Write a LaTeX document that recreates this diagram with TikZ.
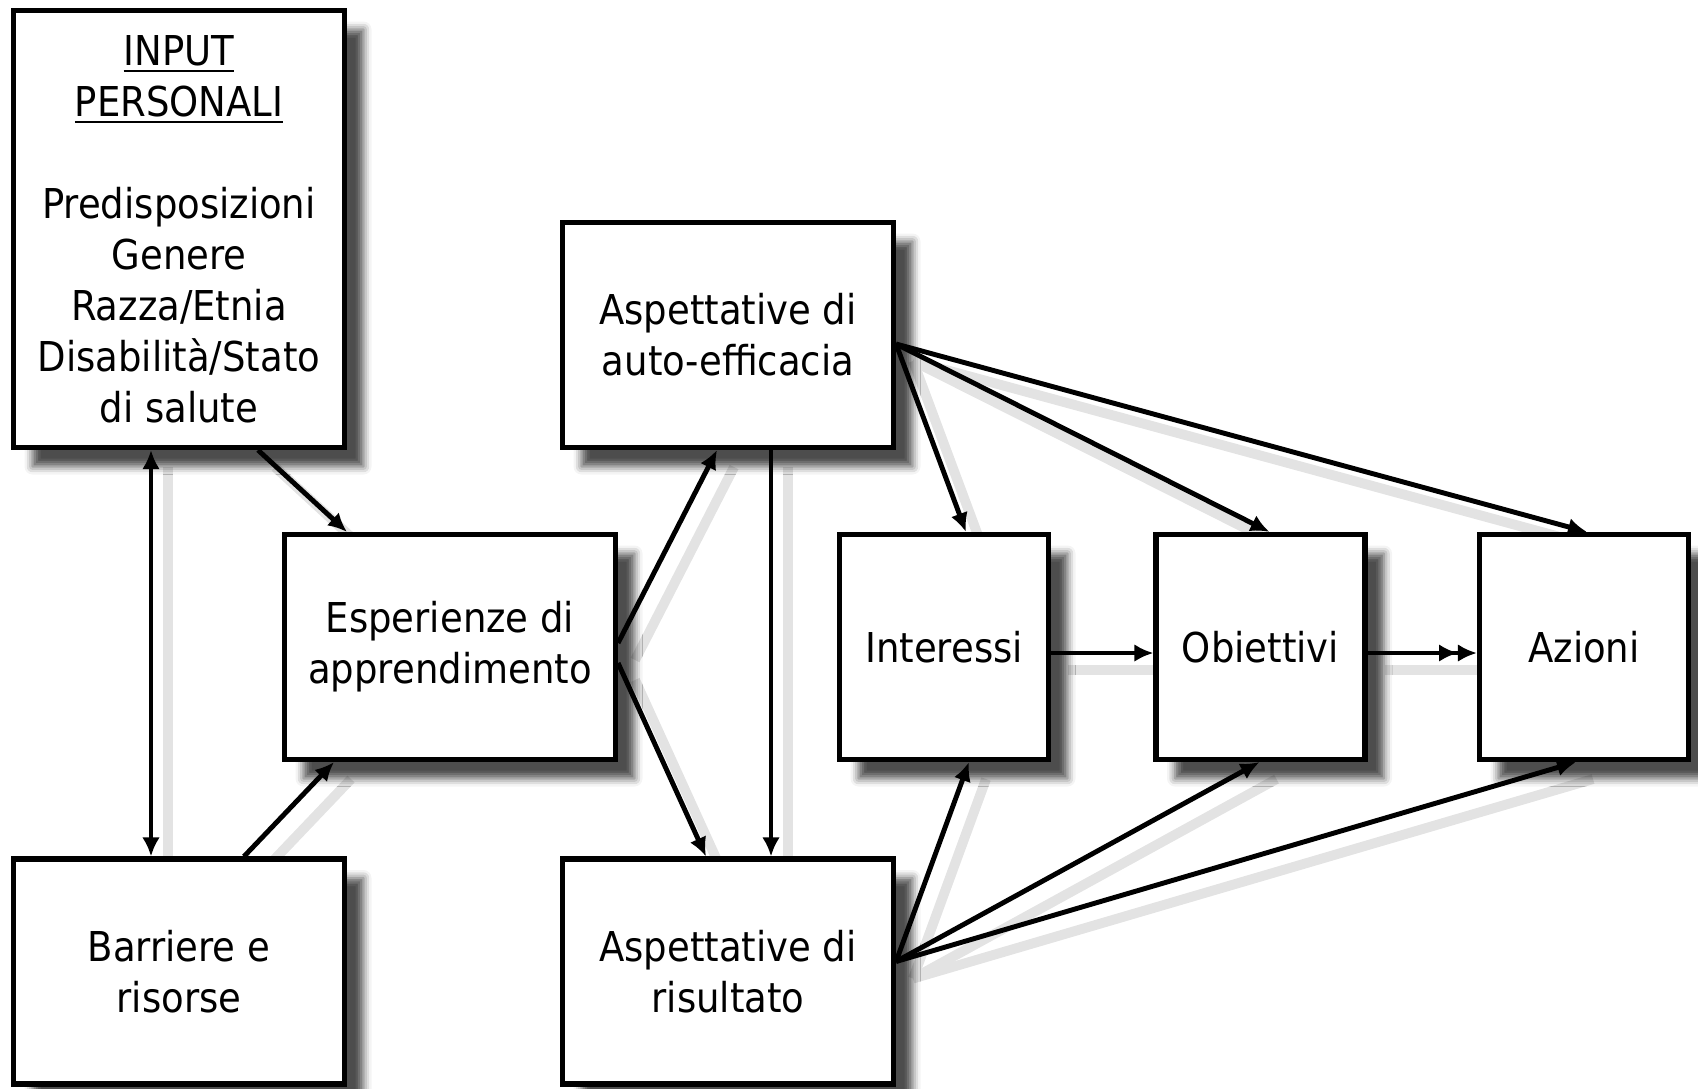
\documentclass[tikz,border=0pt]{standalone}
\usepackage{fontspec}
\setmainfont{DejaVu Sans Condensed}
\usetikzlibrary{arrows.meta,shadows.blur}
\pgfdeclarelayer{bg}
\pgfdeclarelayer{fg}
\pgfsetlayers{bg,main,fg}

\tikzset{
  box/.style={draw, line width=1.45pt, fill=white, align=center, inner sep=0pt,
    minimum width=3.31cm, minimum height=2.25cm,
    font=\fontsize{11.7}{14.5}\selectfont,
    blur shadow={shadow xshift=0.19cm, shadow yshift=-0.19cm,
      shadow blur radius=0.08cm, shadow opacity=70}},
  smallbox/.style={box, minimum width=2.09cm},
  link/.style={line width=1.4pt, ->},
  linkshadow/.style={line width=2.8pt, draw=black!11,
    transform canvas={shift={(0.17,-0.17)}}},
}

% connector with its soft shadow underneath
\newcommand\link[3][]{%
  \begin{pgfonlayer}{bg}\draw[linkshadow] #2 -- #3;\end{pgfonlayer}
  \begin{pgfonlayer}{fg}\draw[link,#1] #2 -- #3;\end{pgfonlayer}}

\begin{document}
\begin{tikzpicture}[>={Latex[length=5.4pt,width=5pt]}]
  \useasboundingbox (0,0) rectangle (16.98,-10.88);

  % boxes
  \node[box, minimum height=4.37cm] (inp) at (1.79,-2.29)
    {\underline{INPUT}\\\underline{PERSONALI}\\[14.5pt]Predisposizioni\\Genere\\Razza/Etnia\\Disabilità/Stato\\di salute};
  \node[box] (esp) at (4.50,-6.47) {Esperienze di\\apprendimento};
  \node[box] (auto) at (7.28,-3.35) {Aspettative di\\auto-efficacia};
  \node[box] (ris) at (7.28,-9.715) {Aspettative di\\risultato};
  \node[box] (barr) at (1.79,-9.715) {Barriere e\\risorse};
  \node[smallbox] (int) at (9.44,-6.47) {Interessi};
  \node[smallbox] (obi) at (12.605,-6.47) {Obiettivi};
  \node[smallbox] (azi) at (15.84,-6.47) {Azioni};

  % left part
  \link{([xshift=0.79cm]inp.south)}{([xshift=-1.03cm]esp.north)}
  \link[<->]{([xshift=-0.28cm]barr.north)}{([xshift=-0.28cm]inp.south)}
  \link{([xshift=0.65cm]barr.north)}{([xshift=-1.16cm]esp.south)}

  % expectations
  \link{([yshift=0.04cm]esp.east)}{([xshift=-0.11cm]auto.south)}
  \link{([yshift=-0.16cm]esp.east)}{([xshift=-0.22cm]ris.north)}
  \link{([xshift=0.43cm]auto.south)}{([xshift=0.43cm]ris.north)}

  % fans to the right
  \foreach \t/\s in {int/0.22, obi/0.09, azi/0.03}
    \link{([yshift=-0.09cm]auto.east)}{([xshift=\s cm]\t.north)};
  \foreach \t/\s in {int/0.25, obi/-0.01, azi/-0.08}
    \link{([yshift=0.10cm]ris.east)}{([xshift=\s cm]\t.south)};

  % chain
  \link{([yshift=-0.06cm]int.east)}{([yshift=-0.06cm]obi.west)}
  \link[->>]{([yshift=-0.06cm]obi.east)}{([yshift=-0.06cm]azi.west)}
\end{tikzpicture}
\end{document}
